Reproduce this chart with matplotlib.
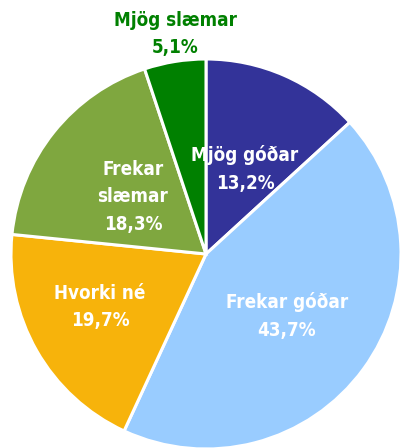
import matplotlib
matplotlib.use("Agg")
import matplotlib.pyplot as plt

# =============================================================================
# Data
categories = ["Mjög góðar", "Frekar góðar", "Hvorki né", "Frekar slæmar", "Mjög slæmar"]
values = [13.2, 43.7, 19.7, 18.3, 5.1]
colors = ["#333399", "#99CCFF", "#F7B30B", "#7FA73F", "#008000"]
label_texts = ["Mjög góðar\n13,2%", "Frekar góðar\n43,7%", "Hvorki né\n19,7%",
               "Frekar\nslæmar\n18,3%", "Mjög slæmar\n5,1%"]

# =============================================================================
# Plot
W, H = 403, 448
cx, cy, r = 206, 254, 195
fg = plt.figure(figsize=(W / 100, H / 100), dpi=100)
ax = fg.add_axes([(cx - r) / W, (H - cy - r) / H, 2 * r / W, 2 * r / H])

ax.pie(values, colors=colors, startangle=90, counterclock=False, radius=1,
       wedgeprops={"edgecolor": "white", "linewidth": 2.2})
ax.set_xlim(-1, 1)
ax.set_ylim(-1, 1)
ax.set_aspect("equal")
ax.axis("off")

# label centres in pixels
label_px = [(245, 169), (287, 316), (100, 307), (133, 197), (175, 34)]
label_colors = ["white", "white", "white", "white", "#008000"]
for txt, (px, py), c in zip(label_texts, label_px, label_colors):
    ax.text((px - cx) / r, (cy - py) / r, txt, ha="center", va="center",
            color=c, fontsize=13.5, fontweight="bold", linespacing=1.55,
            family="DejaVu Sans", fontstretch="condensed", clip_on=False)

fg.savefig("out.png", dpi=100)
